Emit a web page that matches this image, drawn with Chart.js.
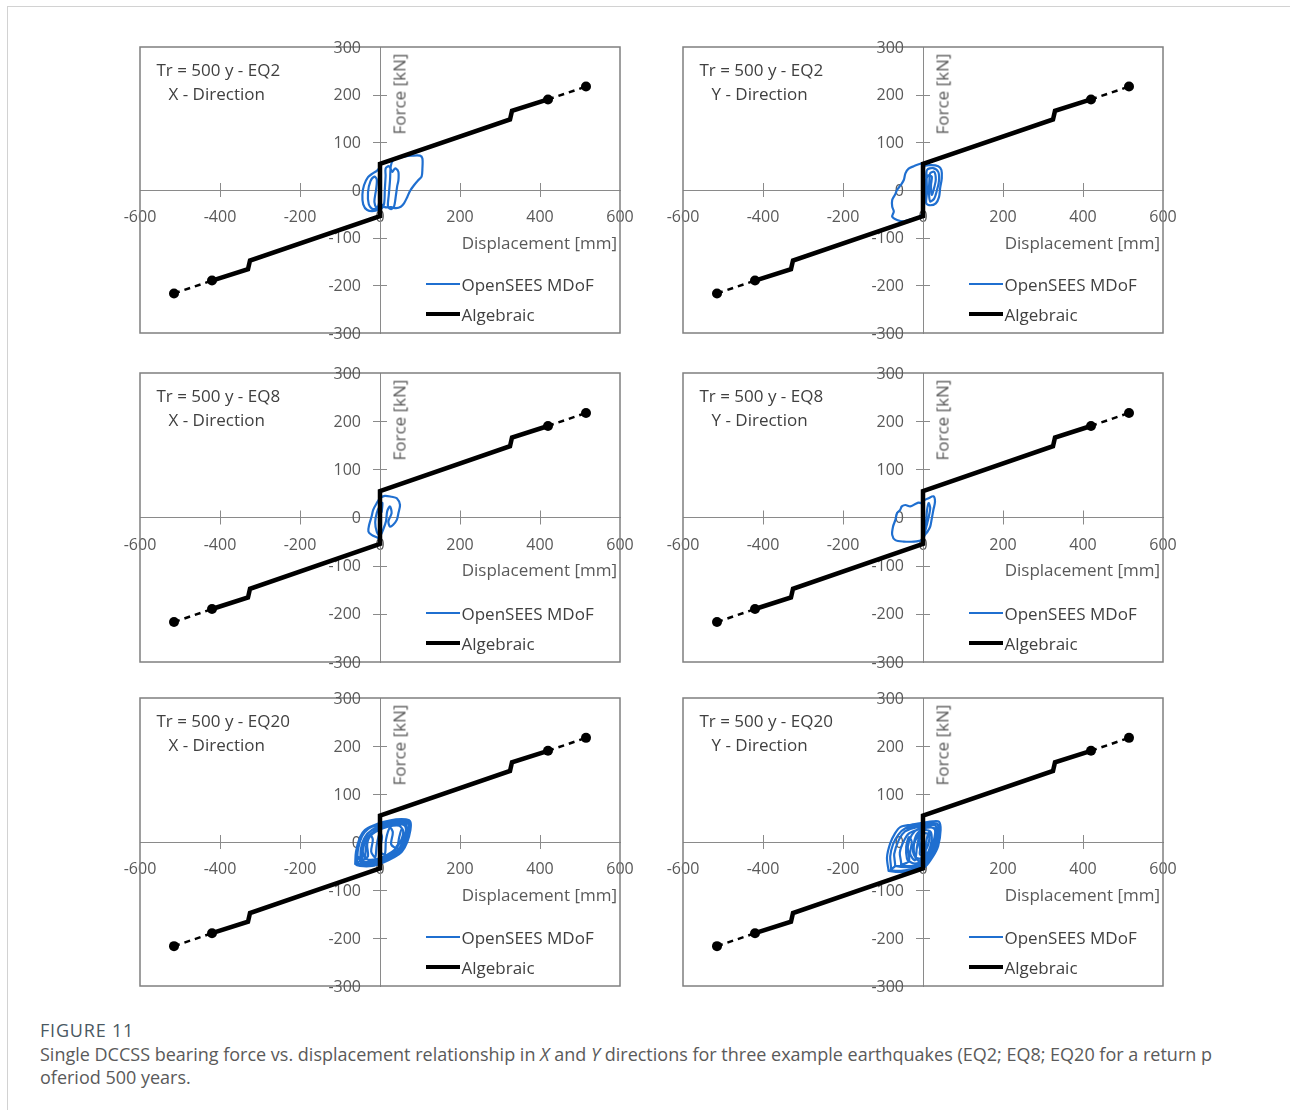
<!DOCTYPE html>
<html><head><meta charset="utf-8">
<title>Figure 11</title>
<script src="https://cdn.jsdelivr.net/npm/chart.js@4.4.1/dist/chart.umd.min.js"></script>
<style>
html,body{margin:0;padding:0;background:#fff;}
body{width:1290px;height:1110px;position:relative;overflow:hidden;font-family:"Open Sans",sans-serif;}
#frame{position:absolute;left:7px;top:6px;width:1320px;height:1200px;border-left:1px solid #d2d2d2;border-top:1px solid #d2d2d2;}
.panel{position:absolute;}
.panel canvas{position:absolute;left:0;top:0;}
.lbl{position:absolute;white-space:nowrap;line-height:1;transform:translateY(-50%);}
.note{font-size:17px;color:#404040;}
.axt{font-size:17px;color:#595959;}
.legt{font-size:17px;color:#404040;}
.legl{position:absolute;transform:translateY(-50%);}
#cap-h{position:absolute;left:40px;top:1019px;font-size:18px;line-height:22px;letter-spacing:0.8px;color:#4a5862;}
#cap{position:absolute;left:40px;top:1043px;font-size:18px;line-height:23px;color:#5a5a5a;white-space:nowrap;}
</style></head>
<body>
<div id="frame"></div>
<div id="cap-h">FIGURE 11</div>
<div id="cap">Single DCCSS bearing force vs. displacement relationship in <i>X</i> and <i>Y</i> directions for three example earthquakes (EQ2; EQ8; EQ20 for a return p<br>oferiod 500 years.</div>
<script>
// ---------- DATA ----------
const dispTicks = [-600, -400, -200, 0, 200, 400, 600];
const forceTicks = [-300, -200, -100, 0, 100, 200, 300];

// Algebraic model (displacement mm, force kN)
const algDisp  = [-515, -420, -330, -325, 0, 0, 325, 330, 420, 515];
const algForce = [-217, -190, -166, -148, -55, 55, 148, 166, 190, 217];
const algDots  = [1, 1, 0, 0, 0, 0, 0, 0, 1, 1];

// OpenSEES MDoF hysteresis traces [displacement mm, force kN]
const eq2X = [[0,-40],[-15,-44],[-32,-42],[-42,-30],[-44,-10],[-40,10],[-30,27],[-18,35],[-8,40],[-2,46],[0,50],[2,20],[0,-10],[-5,-35],[-18,-40],[-28,-30],[-30,-5],[-24,18],[-14,28],[-8,22],[-10,0],[-14,-25],[-8,-38],[2,-40],[10,-30],[12,0],[14,30],[14,45],[22,50],[28,42],[31,38],[36,44],[40,45],[46,38],[46,20],[43,8],[40,-10],[35,-35],[28,-40],[20,-35],[22,-10],[25,20],[27,50],[32,62],[45,67],[60,70],[80,72],[100,72],[106,66],[106,45],[104,28],[95,20],[85,10],[75,-2],[68,-15],[60,-28],[52,-35],[40,-38],[28,-36],[12,-36],[4,-30]];
const eq2Y = [[0,55],[-3,56],[-23,50],[-36,45],[-44,35],[-48,21],[-56,10],[-65,0],[-70,-10],[-77,-21],[-77,-35],[-73,-45],[-77,-56],[-65,-63],[-48,-66],[-36,-63],[-15,-59],[-3,-52],[0,-45],[2,-30],[5,0],[3,30],[4,50],[20,52],[38,50],[46,42],[47,25],[43,5],[40,-15],[32,-28],[18,-32],[8,-28],[10,-5],[9,25],[10,42],[25,46],[38,38],[40,20],[35,0],[28,-18],[18,-24],[15,-5],[16,20],[18,35],[28,38],[32,22],[28,5],[22,-10],[20,10],[22,28],[12,30],[6,10],[4,-20],[2,-28]];
const eq8X = [[-2,-45],[-4,-43],[-21,-36],[-29,-29],[-27,-15],[-21,2],[-17,16],[-8,30],[0,40],[12,45],[29,43],[42,40],[50,26],[46,9],[42,-5],[33,-15],[25,-19],[21,-8],[29,9],[25,23],[18,13],[15,-8],[8,-25],[0,-38],[-8,-30],[-12,-10],[-8,10],[0,25],[6,30],[4,10]];
const eq8Y = [[2,-47],[-23,-50],[-48,-50],[-69,-47],[-77,-36],[-75,-19],[-69,-5],[-65,9],[-57,16],[-53,23],[-44,26],[-32,23],[-19,28],[-11,31],[-3,30],[2,35],[14,40],[26,44],[30,33],[26,16],[22,-2],[18,-19],[11,-30],[5,-36],[2,-40],[8,-20],[14,0],[18,20],[14,30],[10,15],[8,-5],[3,-30]];
const eq20X = [[-62,-46],[-60,-20],[-50,10],[-38,25],[-15,35],[10,42],[40,47],[65,47],[76,42],[76,25],[68,0],[55,-20],[35,-32],[10,-42],[-20,-50],[-50,-50],[-62,-46],[-58,-43],[-55,-15],[-45,12],[-30,27],[-5,36],[25,43],[55,45],[72,40],[72,18],[62,-5],[45,-24],[20,-36],[-10,-45],[-40,-47],[-58,-43],[-50,-40],[-48,-15],[-38,10],[-20,25],[5,33],[35,40],[60,40],[68,28],[62,5],[48,-15],[28,-28],[0,-38],[-30,-44],[-50,-40],[-45,-38],[-42,-12],[-32,8],[-15,22],[10,30],[40,37],[62,34],[64,15],[55,-5],[40,-20],[20,-30],[-5,-38],[-30,-42],[-45,-38],[-38,-35],[-35,-10],[-25,12],[-5,24],[20,32],[48,34],[58,22],[52,2],[38,-15],[15,-28],[-10,-36],[-38,-35],[-30,-30],[-32,-5],[-25,15],[-18,5],[-22,-20],[-12,-32],[-8,-5],[0,20],[5,10],[0,-20],[12,-25],[15,5],[25,30],[32,20],[28,-5],[42,-12],[48,10],[55,28],[60,15],[55,-2],[45,-5],[30,-25],[10,-35],[-10,-40],[-28,-38],[-42,-25],[-40,0],[-30,18],[-10,30],[20,38],[50,42],[70,38],[72,20],[60,-5],[40,-25],[15,-38],[-15,-45],[-45,-45],[-55,-30]];
const eq20Y = [[-86,-60],[-90,-32],[-82,-3],[-70,18],[-57,31],[-30,36],[0,40],[25,43],[40,42],[44,25],[38,-8],[25,-30],[5,-52],[-20,-60],[-50,-63],[-86,-60],[-80,-58],[-82,-30],[-75,-5],[-62,15],[-45,28],[-15,34],[15,38],[36,38],[40,22],[34,-5],[22,-28],[2,-48],[-25,-56],[-55,-60],[-80,-58],[-70,-50],[-72,-25],[-60,5],[-45,22],[-20,30],[5,35],[30,35],[35,20],[30,-5],[18,-25],[0,-45],[-30,-52],[-70,-50],[-55,-48],[-58,-22],[-48,2],[-35,18],[-12,26],[12,30],[30,28],[32,12],[25,-10],[12,-30],[-5,-45],[-30,-50],[-55,-48],[-35,-40],[-38,-10],[-28,15],[-10,28],[15,32],[30,25],[26,0],[15,-22],[0,-38],[-20,-45],[-35,-40],[-40,-35],[-42,-10],[-35,10],[-28,0],[-32,-25],[-20,-38],[-15,-10],[-8,15],[-2,5],[-8,-25],[5,-30],[8,0],[15,20],[22,10],[18,-10],[10,-25],[-5,-35],[-20,-30],[-22,0],[-12,20],[5,25],[20,20],[20,-5],[10,-25],[-5,-20],[-8,5],[2,18],[15,15],[12,-8],[0,-25],[-10,-40],[-25,-20],[-15,10],[10,30],[35,38],[40,15],[28,-15],[8,-40]];

// ---------- LAYOUT ----------
const PAD = 40, W = 480;
const panels = [
  {left:140, top:47,  h:286, eq:'EQ2',  dir:'X', trace:eq2X},
  {left:683, top:47,  h:286, eq:'EQ2',  dir:'Y', trace:eq2Y},
  {left:140, top:373, h:289, eq:'EQ8',  dir:'X', trace:eq8X},
  {left:683, top:373, h:289, eq:'EQ8',  dir:'Y', trace:eq8Y},
  {left:140, top:698, h:288, eq:'EQ20', dir:'X', trace:eq20X},
  {left:683, top:698, h:288, eq:'EQ20', dir:'Y', trace:eq20Y}
];

Chart.defaults.font.family = "'Open Sans', sans-serif";

const framePlugin = {
  id: 'frameTicks',
  beforeDatasetsDraw(chart) {
    const {ctx, chartArea: a, scales: {x, y}} = chart;
    ctx.save();
    ctx.strokeStyle = '#7f7f7f';
    ctx.lineWidth = 1.5;
    ctx.strokeRect(a.left, a.top, a.right - a.left, a.bottom - a.top);
    ctx.strokeStyle = '#8a8a8a';
    ctx.lineWidth = 1;
    const y0 = y.getPixelForValue(0), x0 = x.getPixelForValue(0);
    ctx.beginPath();
    x.ticks.forEach(t => {
      if (t.value === 0 || Math.abs(t.value) === 600) return;
      const p = Math.round(x.getPixelForValue(t.value)) + 0.5;
      ctx.moveTo(p, y0 - 7); ctx.lineTo(p, y0 + 7);
    });
    y.ticks.forEach(t => {
      if (t.value === 0 || Math.abs(t.value) === 300) return;
      const p = Math.round(y.getPixelForValue(t.value)) + 0.5;
      ctx.moveTo(x0 - 7, p); ctx.lineTo(x0 + 7, p);
    });
    ctx.stroke();
    // force-axis tick labels, set off to the left of the crossing axis
    ctx.fillStyle = '#595959';
    ctx.font = "16px 'Open Sans'";
    ctx.textAlign = 'right';
    ctx.textBaseline = 'middle';
    y.ticks.forEach(t => {
      ctx.fillText(String(t.value), x0 - 19, y.getPixelForValue(t.value) + 1);
    });
    ctx.restore();
  }
};

function addDiv(cls, text, x, y, style) {
  const d = document.createElement('div');
  d.className = cls;
  if (text) d.textContent = text;
  d.style.left = x + 'px';
  d.style.top = y + 'px';
  if (style) Object.assign(d.style, style);
  document.body.appendChild(d);
  return d;
}

panels.forEach((p, i) => {
  const wrap = document.createElement('div');
  wrap.className = 'panel';
  wrap.style.left = (p.left - PAD) + 'px';
  wrap.style.top = (p.top - PAD) + 'px';
  const cv = document.createElement('canvas');
  cv.width = W + 2 * PAD; cv.height = p.h + 2 * PAD;
  cv.style.width = cv.width + 'px'; cv.style.height = cv.height + 'px';
  wrap.appendChild(cv);
  document.body.appendChild(wrap);

  const algPts = algDisp.map((d, k) => ({x: d, y: algForce[k]}));
  const n = algPts.length;
  new Chart(cv, {
    type: 'scatter',
    data: {
      datasets: [
        {
          label: 'Algebraic',
          data: algPts,
          showLine: true,
          borderColor: '#000',
          backgroundColor: '#000',
          borderWidth: 4.5,
          pointRadius: algDots.map(v => v ? 5 : 0),
          pointHoverRadius: 0,
          pointBackgroundColor: '#000',
          pointBorderWidth: 0,
          tension: 0,
          order: 0,
          segment: {
            borderDash: c => (c.p0DataIndex === 0 || c.p0DataIndex === n - 2) ? [6, 5] : undefined,
            borderWidth: c => (c.p0DataIndex === 0 || c.p0DataIndex === n - 2) ? 2.5 : 4.5
          }
        },
        {
          label: 'OpenSEES MDoF',
          data: p.trace.map(v => ({x: v[0], y: v[1]})),
          showLine: true,
          borderColor: '#1f6fd0',
          borderWidth: 2.2,
          pointRadius: 0,
          tension: 0.3,
          order: 1
        }
      ]
    },
    options: {
      responsive: false,
      animation: false,
      devicePixelRatio: 1,
      layout: {padding: PAD},
      plugins: {legend: {display: false}, tooltip: {enabled: false}},
      events: [],
      scales: {
        x: {
          type: 'linear', min: -600, max: 600, position: {y: 0},
          afterBuildTicks: s => { s.ticks = dispTicks.map(v => ({value: v})); },
          ticks: {color: '#595959', font: {size: 16}, padding: 18, maxRotation: 0, autoSkip: false},
          grid: {display: false, drawTicks: false},
          border: {color: '#8a8a8a', width: 1}
        },
        y: {
          type: 'linear', min: -300, max: 300, position: {x: 0},
          afterBuildTicks: s => { s.ticks = forceTicks.map(v => ({value: v})); },
          ticks: {display: false},
          grid: {display: false, drawTicks: false},
          border: {color: '#8a8a8a', width: 1}
        }
      }
    },
    plugins: [framePlugin]
  });

  const zeroY = p.top + p.h / 2;
  const bottom = p.top + p.h;
  addDiv('lbl note', 'Tr = 500 y - ' + p.eq, p.left + 16.5, p.top + 22);
  addDiv('lbl note', p.dir + ' - Direction', p.left + 28.5, p.top + 45.5);
  addDiv('lbl axt', 'Force [kN]', p.left + 258.5, p.top + 47, {transform: 'translate(-50%,-50%) rotate(-90deg)'});
  addDiv('lbl axt', 'Displacement [mm]', p.left + 477, zeroY + 51.5, {transform: 'translate(-100%,-50%)'});
  addDiv('legl', '', p.left + 286, bottom - 48.8, {width: '34px', height: '2px', background: '#1f6fd0'});
  addDiv('lbl legt', 'OpenSEES MDoF', p.left + 321.5, bottom - 48.8);
  addDiv('legl', '', p.left + 286, bottom - 19.5, {width: '34px', height: '4px', background: '#000'});
  addDiv('lbl legt', 'Algebraic', p.left + 321.5, bottom - 19.5);
});
</script>
</body></html>
